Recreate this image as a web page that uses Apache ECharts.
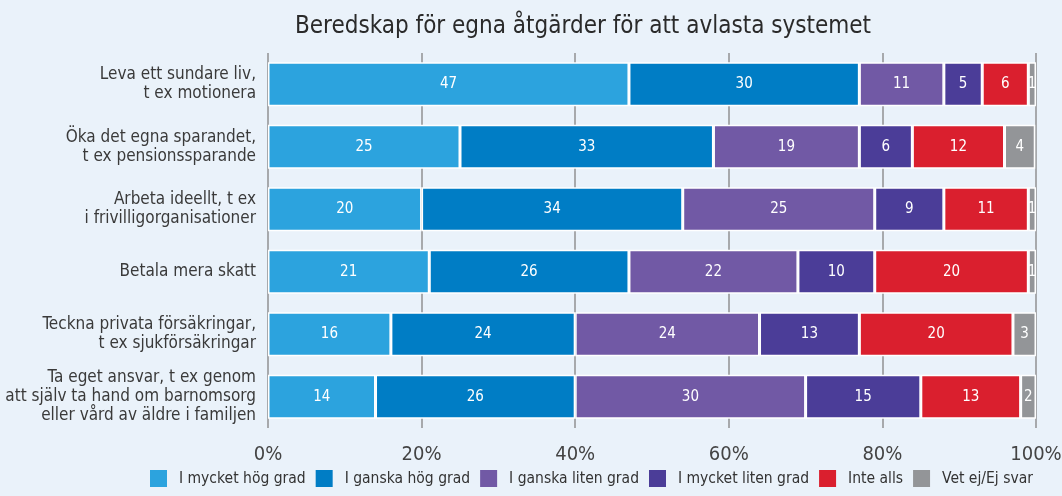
<!DOCTYPE html>
<html>
<head>
<meta charset="utf-8">
<script src="https://cdn.jsdelivr.net/npm/echarts@6/dist/echarts.min.js"></script>
<style>
  html, body { margin: 0; padding: 0; background: #eaf2fa; }
  #chart { width: 1062px; height: 496px; }
</style>
</head>
<body>
<div id="chart"></div>
<script>
  // frågor (y-axeln)
  const categories = [
    'Leva ett sundare liv,\nt ex motionera',
    'Öka det egna sparandet,\nt ex pensionssparande',
    'Arbeta ideellt, t ex\ni frivilligorganisationer',
    'Betala mera skatt',
    'Teckna privata försäkringar,\nt ex sjukförsäkringar',
    'Ta eget ansvar, t ex genom\natt själv ta hand om barnomsorg\neller vård av äldre i familjen'
  ];
  const seriesNames = ['I mycket hög grad', 'I ganska hög grad', 'I ganska liten grad', 'I mycket liten grad', 'Inte alls', 'Vet ej/Ej svar'];
  const mycketHog = [47, 25, 20, 21, 16, 14];
  const ganskaHog = [30, 33, 34, 26, 24, 26];
  const ganskaLiten = [11, 19, 25, 22, 24, 30];
  const mycketLiten = [5, 6.9, 9, 10, 13, 15];
  const inteAlls = [6, 12, 11, 20, 20, 13];
  const vetEj = [1, 4, 1, 1, 3, 2];
  const xTicks = [0, 20, 40, 60, 80, 100];

  const colors = ['#2ca3de', '#007dc5', '#7159a5', '#4b3d98', '#da1f2e', '#939598'];
  const font = "'Liberation Sans Narrow', 'DejaVu Sans Condensed', sans-serif";

  const allData = [mycketHog, ganskaHog, ganskaLiten, mycketLiten, inteAlls, vetEj];

  const chart = echarts.init(document.getElementById('chart'));
  const option = {
    backgroundColor: '#eaf2fa',
    color: colors,
    textStyle: { fontFamily: font },
    title: {
      text: 'Beredskap för egna åtgärder för att avlasta systemet',
      left: 578, top: 10, textAlign: 'center',
      textStyle: { fontFamily: font, fontSize: 24, fontWeight: 'normal', color: '#2a2a2a' }
    },
    legend: {
      bottom: 4, left: 145,
      itemWidth: 17, itemHeight: 17, itemGap: 10,
      icon: 'rect',
      itemStyle: { borderWidth: 0 },
      textStyle: { fontFamily: font, fontSize: 15.5, color: '#333', padding: [0, 0, 0, 7] },
      data: seriesNames
    },
    grid: { left: 268, right: 26, top: 53, bottom: 68, outerBoundsMode: 'none' },
    xAxis: {
      type: 'value', min: 0, max: 100, interval: 20,
      axisLine: { show: false }, axisTick: { show: false },
      splitLine: { lineStyle: { color: '#a7a9ac', width: 2 } },
      axisLabel: {
        formatter: v => xTicks.includes(v) ? v + '%' : '',
        fontFamily: font, fontSize: 20, color: '#444', margin: 17
      }
    },
    yAxis: {
      type: 'category', inverse: true, data: categories,
      axisLine: { show: false }, axisTick: { show: false },
      axisLabel: { fontFamily: font, fontSize: 17, lineHeight: 19, color: '#3a3a3a', margin: 12 }
    },
    series: allData.map((d, i) => ({
      name: seriesNames[i],
      type: 'bar', stack: 'total', barWidth: 44,
      data: d,
      itemStyle: { borderColor: '#ffffff', borderWidth: 1.5 },
      label: {
        show: true, position: 'inside', color: '#fff',
        fontFamily: font, fontSize: 15,
        formatter: p => Math.floor(p.value)
      }
    }))
  };
  chart.setOption(option);
</script>
</body>
</html>
